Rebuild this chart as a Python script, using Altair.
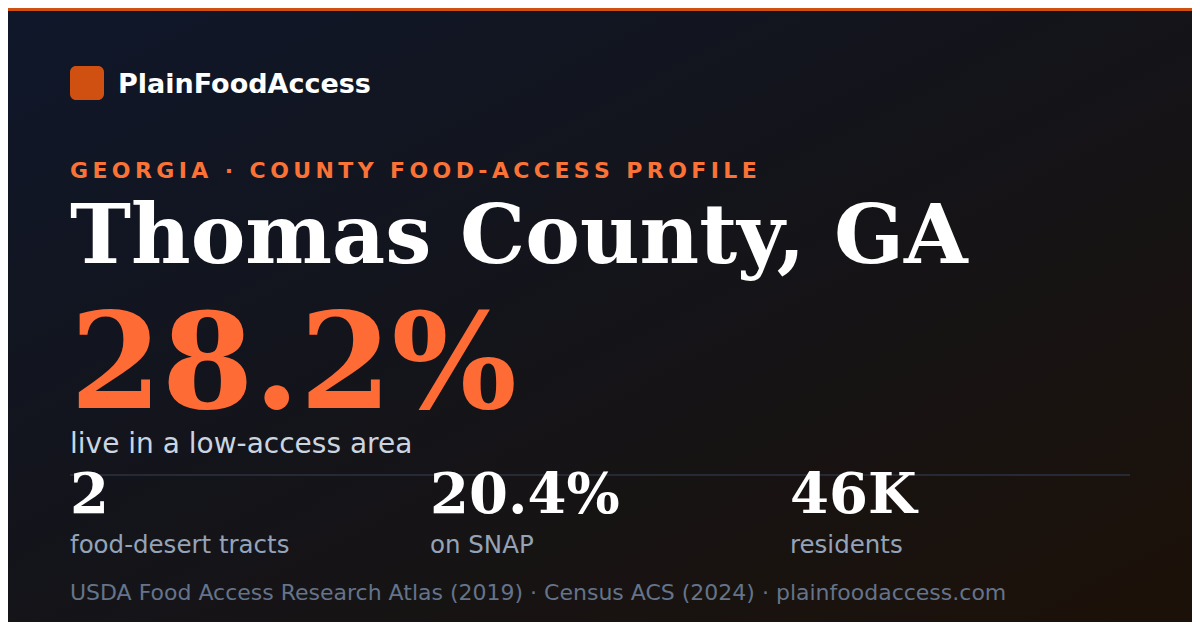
import altair as alt
import pandas as pd

# ---- content ----
BRAND = "PlainFoodAccess"
KICKER = "GEORGIA · COUNTY FOOD-ACCESS PROFILE"
COUNTY = "Thomas County, GA"
HEADLINE_VALUE = "28.2%"
HEADLINE_LABEL = "live in a low-access area"
STAT_VALUES = ["2", "20.4%", "46K"]
STAT_LABELS = ["food-desert tracts", "on SNAP", "residents"]
SOURCE = "USDA Food Access Research Atlas (2019) · Census ACS (2024) · plainfoodaccess.com"

# ---- layout (page pixels of the card; the page itself has an 8px margin) ----
OFF = 8
W, H = 1200 - 2 * OFF, 630 - 2 * OFF
LEFT = 70
STAT_X = [70, 430, 790]

SANS = "DejaVu Sans"
SERIF = "DejaVu Serif"
ORANGE = "#cf5010"
ACCENT = "#ff6b35"


def px(v):
    return v - OFF


def text_layer(texts, xs, y, size, color, font, weight="normal"):
    df = pd.DataFrame({"text": texts, "x": [px(x) for x in xs], "y": [px(y)] * len(texts)})
    return alt.Chart(df).mark_text(
        align="left", baseline="alphabetic", fontSize=size, color=color,
        font=font, fontWeight=weight,
    ).encode(
        x=alt.X("x:Q", scale=None, axis=None),
        y=alt.Y("y:Q", scale=None, axis=None),
        text="text:N",
    )


one = pd.DataFrame({"k": [0]})

background = alt.Chart(one).mark_rect(
    color=alt.Gradient(
        gradient="linear",
        stops=[
            alt.GradientStop(color="#0f172a", offset=0),
            alt.GradientStop(color="#141419", offset=0.5),
            alt.GradientStop(color="#1c1108", offset=1),
        ],
        x1=0, y1=0, x2=1, y2=1,
    )
).encode(x=alt.value(0), x2=alt.value(W), y=alt.value(0), y2=alt.value(H))

top_bar = alt.Chart(one).mark_rect(color=ORANGE).encode(
    x=alt.value(0), x2=alt.value(W), y=alt.value(0), y2=alt.value(3)
)

logo = alt.Chart(one).mark_rect(color=ORANGE, cornerRadius=6).encode(
    x=alt.value(px(70)), x2=alt.value(px(104)), y=alt.value(px(66)), y2=alt.value(px(100))
)

divider = alt.Chart(one).mark_rule(color="#262a35", strokeWidth=2).encode(
    x=alt.value(px(70)), x2=alt.value(px(1130)), y=alt.value(px(475))
)

brand = text_layer([BRAND], [118], 93, 27, "#ffffff", SANS, "bold")
kicker = text_layer(["\u2009".join(KICKER)], [LEFT], 178, 22, "#fb7237", SANS, "bold")
title = text_layer([COUNTY], [LEFT], 263, 82, "#ffffff", SERIF, "bold")
big = text_layer([HEADLINE_VALUE], [LEFT], 408, 132, ACCENT, SERIF, "bold")
big_label = text_layer([HEADLINE_LABEL], [LEFT], 453, 28, "#cbd5e1", SANS)
stat_vals = text_layer(STAT_VALUES, STAT_X, 513, 56, "#ffffff", SERIF, "bold")
stat_labs = text_layer(STAT_LABELS, STAT_X, 553, 24.5, "#94a3b8", SANS)
source = text_layer([SOURCE], [LEFT], 600, 22, "#64748b", SANS)

chart = alt.layer(
    background, top_bar, logo, divider,
    brand, kicker, title, big, big_label, stat_vals, stat_labs, source,
).properties(
    width=W, height=H, padding=0, background="#13151c",
    autosize=alt.AutoSizeParams(type="none"),
).configure_view(stroke=None)

chart.save("out.html", embed_options={"renderer": "svg", "actions": False})
